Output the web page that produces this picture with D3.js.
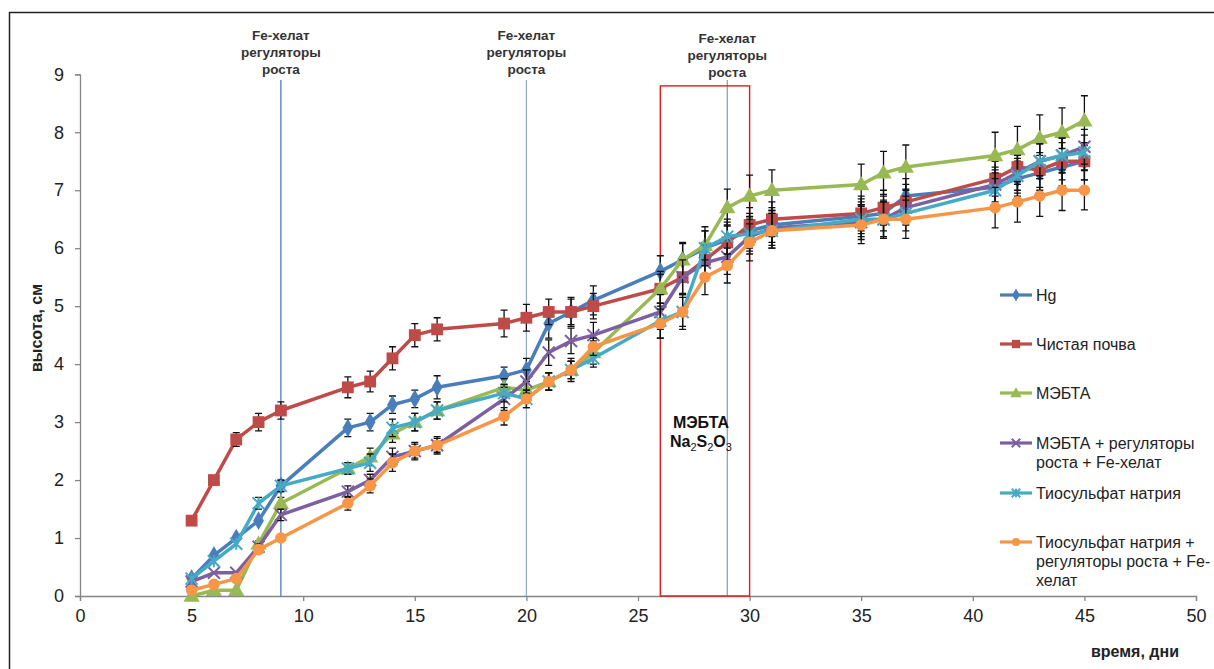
<!DOCTYPE html>
<html><head><meta charset="utf-8">
<script src="https://cdn.jsdelivr.net/npm/d3@7/dist/d3.min.js"></script>
<style>
html,body{margin:0;padding:0;background:#fff;}
svg{display:block;font-family:"Liberation Sans",Arial,sans-serif;}
</style></head>
<body><svg id="c" width="1214" height="669"></svg>
<script>
// ---- data ----
const days = [5,6,7,8,9,12,13,14,15,16,19,20,21,22,23,26,27,28,29,30,31,35,36,37,41,42,43,44,45];
const hg        = [0.3,0.7,1.0,1.3,1.9,2.9,3.0,3.3,3.4,3.6,3.8,3.9,4.7,4.9,5.1,5.6,5.8,6.0,6.15,6.3,6.4,6.55,6.6,6.9,7.05,7.2,7.3,7.4,7.5];
const clean     = [1.3,2.0,2.7,3.0,3.2,3.6,3.7,4.1,4.5,4.6,4.7,4.8,4.9,4.9,5.0,5.3,5.5,5.8,6.1,6.4,6.5,6.6,6.7,6.8,7.2,7.4,7.35,7.5,7.5];
const mebta     = [0.0,0.1,0.1,0.9,1.6,2.2,2.4,2.8,3.0,3.2,3.6,3.55,3.7,3.9,4.2,5.3,5.8,6.05,6.7,6.9,7.0,7.1,7.3,7.4,7.6,7.7,7.9,8.0,8.2];
const mebtaReg  = [0.25,0.4,0.4,0.85,1.4,1.8,2.0,2.4,2.5,2.6,3.4,3.7,4.2,4.4,4.5,4.9,5.5,5.75,5.85,6.2,6.35,6.45,6.5,6.7,7.1,7.3,7.5,7.6,7.75];
const thio      = [0.3,0.6,0.9,1.6,1.9,2.2,2.3,2.9,3.0,3.2,3.5,3.4,3.7,3.9,4.1,4.75,4.9,6.0,6.2,6.25,6.3,6.5,6.5,6.6,7.0,7.25,7.5,7.6,7.65];
const thioReg   = [0.1,0.2,0.3,0.8,1.0,1.6,1.9,2.3,2.5,2.6,3.1,3.4,3.7,3.9,4.3,4.7,4.9,5.5,5.7,6.1,6.3,6.4,6.5,6.5,6.7,6.8,6.9,7.0,7.0];
const errHg       = [0,0,0,0,0.1,0.15,0.15,0.15,0.15,0.2,0.15,0.2,0.25,0.25,0.25,0.27,0.28,0.3,0.3,0.3,0.3,0.3,0.3,0.3,0.3,0.3,0.3,0.32,0.32];
const errClean    = [0,0,0.12,0.15,0.15,0.18,0.18,0.2,0.2,0.2,0.23,0.23,0.22,0.22,0.22,0.25,0.28,0.3,0.3,0.3,0.3,0.3,0.3,0.3,0.3,0.3,0.3,0.32,0.32];
const errMebta    = [0,0,0,0.05,0.1,0.1,0.15,0.15,0.15,0.15,0.15,0.15,0.15,0.2,0.2,0.3,0.3,0.32,0.32,0.36,0.35,0.35,0.37,0.38,0.4,0.4,0.4,0.42,0.43];
const errMebtaReg = [0,0,0,0.05,0.1,0.1,0.1,0.15,0.15,0.15,0.2,0.2,0.22,0.22,0.22,0.3,0.3,0.3,0.3,0.3,0.3,0.3,0.3,0.3,0.3,0.3,0.3,0.3,0.3];
const errThio     = [0,0,0,0.1,0.1,0.1,0.15,0.15,0.15,0.15,0.15,0.15,0.15,0.15,0.15,0.3,0.3,0.3,0.3,0.3,0.3,0.3,0.3,0.3,0.3,0.3,0.3,0.3,0.3];
const errThioReg  = [0,0,0,0.05,0.05,0.12,0.12,0.15,0.12,0.12,0.15,0.15,0.15,0.15,0.15,0.25,0.25,0.3,0.3,0.32,0.3,0.32,0.33,0.33,0.35,0.35,0.35,0.35,0.34];
const seriesNames = ["Hg","Чистая почва","МЭБТА","МЭБТА + регуляторы|роста + Fe-хелат","Тиосульфат натрия","Тиосульфат натрия +|регуляторы роста + Fe-|хелат"];
const xTicks = [0,5,10,15,20,25,30,35,40,45,50];
const yTicks = [0,1,2,3,4,5,6,7,8,9];
const eventDays = [9,20,29];
const eventLabel = ["Fe-хелат","регуляторы","роста"];
const boxDays = [26,30];
const boxTop = 8.8;
const eventTop = 8.9;

// ---- layout ----
const svg = d3.select("#c");
const x = d3.scaleLinear().domain([0,50]).range([80,1196]);
const y = d3.scaleLinear().domain([0,9]).range([596,74.3]);
const colors = ["#4A7EBB","#BE4B48","#98B954","#7D60A0","#46AAC5","#F79646"];
const vals = [hg,clean,mebta,mebtaReg,thio,thioReg];
const errs = [errHg,errClean,errMebta,errMebtaReg,errThio,errThioReg];
const markers = ["diamond","square","triangle","x","star","circle"];

svg.append("rect").attr("x",9.5).attr("y",12.5).attr("width",1400).attr("height",800)
  .attr("fill","none").attr("stroke","#222").attr("stroke-width",1.5);

// axes
const axisColor = "#868686";
const xa = svg.append("g").attr("transform",`translate(0,${y(0)})`)
  .call(d3.axisBottom(x).tickValues(xTicks).tickSize(5).tickPadding(8).tickFormat(d3.format("d")));
const ya = svg.append("g").attr("transform",`translate(${x(0)},0)`)
  .call(d3.axisLeft(y).tickValues(yTicks).tickSize(5).tickPadding(11).tickFormat(d3.format("d")));
[xa,ya].forEach(a=>{
  a.selectAll("path,line").attr("stroke",axisColor).attr("stroke-width",1.3);
  a.selectAll("text").attr("font-size",18).attr("fill","#222").attr("font-family","'Liberation Sans',Arial,sans-serif");
});

// event lines
const evColors = ["#4472C4","#8FA8CC","#7F9CC4"];
eventDays.forEach((d,i)=>{
  svg.append("line").attr("x1",x(d)).attr("x2",x(d)).attr("y1",y(eventTop)).attr("y2",y(0))
    .attr("stroke",evColors[i]).attr("stroke-width",1.2);
  const t = svg.append("text").attr("text-anchor","middle").attr("font-weight","bold")
    .attr("font-size",13.5).attr("fill","#333");
  const base = i===2 ? 43 : 40;
  eventLabel.forEach((s,k)=>{
    t.append("tspan").attr("x",x(d)).attr("y",base+k*17).text(s);
  });
});

// red box
svg.append("rect").attr("x",x(boxDays[0])).attr("y",y(boxTop))
  .attr("width",x(boxDays[1])-x(boxDays[0])).attr("height",y(0)-y(boxTop))
  .attr("fill","none").attr("stroke","#E31A1C").attr("stroke-width",1.4);
const bx = (x(boxDays[0])+x(boxDays[1]))/2 - 4;
svg.append("text").attr("x",bx).attr("y",428).attr("text-anchor","middle")
  .attr("font-weight","bold").attr("font-size",16).attr("fill","#111").text("МЭБТА");
const nt = svg.append("text").attr("x",bx).attr("y",447).attr("text-anchor","middle")
  .attr("font-weight","bold").attr("font-size",16).attr("fill","#111");
[["Na",0],["2",1],["S",0],["2",1],["O",0],["3",1]].forEach(([s,sub])=>{
  const ts = nt.append("tspan").text(s);
  if(sub){ ts.attr("font-size",11).attr("dy",4).attr("font-weight","normal"); }
  else { ts.attr("dy", s==="Na"?0:-4); }
});

// marker drawing
function drawMarker(g, type, cx, cy, color, scale){
  scale = scale||1;
  if(type==="diamond"){
    g.append("path").attr("d",d3.symbol(d3.symbolDiamond, 100*scale)()).attr("transform",`translate(${cx},${cy})`).attr("fill",color);
  } else if(type==="square"){
    g.append("path").attr("d",d3.symbol(d3.symbolSquare, 140*scale)()).attr("transform",`translate(${cx},${cy})`).attr("fill",color);
  } else if(type==="triangle"){
    g.append("path").attr("d",d3.symbol(d3.symbolTriangle, 115*scale)()).attr("transform",`translate(${cx},${cy+1})`).attr("fill",color);
  } else if(type==="circle"){
    g.append("path").attr("d",d3.symbol(d3.symbolCircle, 105*scale)()).attr("transform",`translate(${cx},${cy})`).attr("fill",color);
  } else {
    const r = 6*Math.sqrt(scale);
    let p = `M${cx-r},${cy-r}L${cx+r},${cy+r}M${cx-r},${cy+r}L${cx+r},${cy-r}`;
    if(type==="star") p += `M${cx},${cy-r}L${cx},${cy+r}`;
    g.append("path").attr("d",p).attr("stroke",color).attr("stroke-width",2).attr("fill","none");
  }
}

const line = d3.line().x(d=>x(d[0])).y(d=>y(d[1]));
vals.forEach((v,si)=>{
  const g = svg.append("g");
  const pts = days.map((d,i)=>[d,v[i],errs[si][i]]);
  g.append("path").attr("d",line(pts)).attr("fill","none").attr("stroke",colors[si])
    .attr("stroke-width",3.5).attr("stroke-linejoin","round");
  pts.forEach(p=>{
    if(p[2]>0){
      const px=x(p[0]), y1=y(p[1]-p[2]), y2=y(p[1]+p[2]);
      g.append("path").attr("d",`M${px},${y1}L${px},${y2}M${px-3.5},${y1}L${px+3.5},${y1}M${px-3.5},${y2}L${px+3.5},${y2}`)
        .attr("stroke","#111").attr("stroke-width",1.3).attr("fill","none");
    }
  });
  pts.forEach(p=>drawMarker(g, markers[si], x(p[0]), y(p[1]), colors[si]));
});

// legend
const legY = [295,344,393,443,493,542];
seriesNames.forEach((n,i)=>{
  const g = svg.append("g");
  g.append("line").attr("x1",1000).attr("x2",1032).attr("y1",legY[i]).attr("y2",legY[i])
    .attr("stroke",colors[i]).attr("stroke-width",3.2);
  drawMarker(g, markers[i], 1016, legY[i], colors[i], 0.5);
  const t = g.append("text").attr("font-size",16).attr("fill","#222");
  n.split("|").forEach((s,k)=>{
    t.append("tspan").attr("x",1036).attr("y",legY[i]+6+k*19).text(s);
  });
});

// axis titles
svg.append("text").attr("x",1135).attr("y",657).attr("text-anchor","middle")
  .attr("font-weight","bold").attr("font-size",16).attr("fill","#222").text("время, дни");
svg.append("text").attr("transform","translate(42,328) rotate(-90)").attr("text-anchor","middle")
  .attr("font-weight","bold").attr("font-size",16).attr("fill","#222").text("высота, см");
</script></body></html>
